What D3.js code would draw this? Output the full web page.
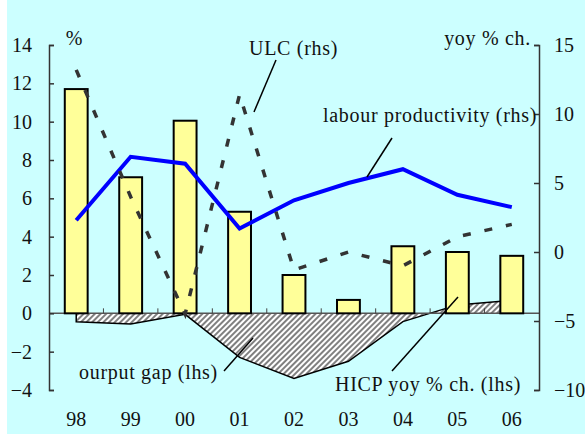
<!DOCTYPE html>
<html>
<head>
<meta charset="utf-8">
<script src="https://cdn.jsdelivr.net/npm/d3@7"></script>
<style>
  html, body { margin: 0; padding: 0; background: #ffffff; }
  svg { display: block; }
  text { font-family: "Liberation Serif", "Times New Roman", serif; fill: #111; }
</style>
</head>
<body>
<svg id="chart" width="585" height="434"></svg>
<script>
// ---- data ----
const years = ["98", "99", "00", "01", "02", "03", "04", "05", "06"];
const hicp = [11.7, 7.1, 10.05, 5.3, 2.0, 0.7, 3.5, 3.2, 3.0];          // bars, lhs
const outputGap = [-0.44, -0.56, -0.05, -2.3, -3.4, -2.5, -0.43, 0.44, 0.68]; // hatched area, lhs
const productivity = [2.3, 6.9, 6.4, 1.7, 3.75, 5.0, 6.0, 4.15, 3.25];   // blue line, rhs
const ulc = [13.2, 4.0, -4.5, 11.4, -1.3, 0.0, -1.0, 1.1, 2.0];          // dashed line, rhs
const leftTicks = [-4, -2, 0, 2, 4, 6, 8, 10, 12, 14];
const rightTicks = [-10, -5, 0, 5, 10, 15];

// ---- layout ----
const svg = d3.select("#chart");
const X0 = 49, X1 = 539, YT = 45, YB = 390;
const fs = 20;

svg.append("rect").attr("x", 7).attr("y", 0).attr("width", 578).attr("height", 434).attr("fill", "#CCFFFF");

const x = d3.scaleBand().domain(years).range([X0, X1]).paddingInner(0).paddingOuter(0);
const cx = d => x(d) + x.bandwidth() / 2;
const yL = d3.scaleLinear().domain([-4, 14]).range([YB, YT]);
const yR = d3.scaleLinear().domain([-10, 15]).range([YB, YT]);

// hatch pattern
const defs = svg.append("defs");
const pat = defs.append("pattern").attr("id", "hatch").attr("patternUnits", "userSpaceOnUse")
  .attr("width", 4).attr("height", 4).attr("patternTransform", "rotate(45)");
pat.append("rect").attr("width", 4).attr("height", 4).attr("fill", "#ffffff");
pat.append("rect").attr("width", 2).attr("height", 4).attr("fill", "#808080");

// output gap area
const gapPts = years.map((d, i) => [cx(d), yL(outputGap[i])]);
const area = d3.area().x(d => d[0]).y0(yL(0)).y1(d => d[1]);
svg.append("path").datum(gapPts).attr("d", area).attr("fill", "url(#hatch)");
const gapOutline = [[cx(years[0]), yL(0)], ...gapPts, [cx(years[years.length - 1]), yL(0)]];
svg.append("path").datum(gapOutline).attr("d", d3.line()).attr("fill", "none")
  .attr("stroke", "#000").attr("stroke-width", 1.5);

// zero line (x axis)
svg.append("line").attr("x1", X0).attr("x2", X1).attr("y1", yL(0)).attr("y2", yL(0))
  .attr("stroke", "#555").attr("stroke-width", 1.5);
// category ticks
const bounds = years.slice(1).map(d => x(d));
svg.selectAll(".ctick").data(bounds).enter().append("line")
  .attr("x1", d => d).attr("x2", d => d).attr("y1", yL(0)).attr("y2", yL(0) - 5)
  .attr("stroke", "#444").attr("stroke-width", 1);

// bars
const bw = x.bandwidth() * 0.42;
svg.selectAll(".bar").data(hicp).enter().append("rect")
  .attr("x", (d, i) => cx(years[i]) - bw / 2)
  .attr("y", d => yL(d))
  .attr("width", bw)
  .attr("height", d => yL(0) - yL(d))
  .attr("fill", "#FFFF99").attr("stroke", "#000").attr("stroke-width", 2);

// productivity line
svg.append("path").datum(productivity)
  .attr("d", d3.line().x((d, i) => cx(years[i])).y(d => yR(d)))
  .attr("fill", "none").attr("stroke", "#0000FF").attr("stroke-width", 4)
  .attr("stroke-linejoin", "miter");

// ULC dashed line
svg.append("path").datum(ulc)
  .attr("d", d3.line().x((d, i) => cx(years[i])).y(d => yR(d)))
  .attr("fill", "none").attr("stroke", "#333").attr("stroke-width", 3.5)
  .attr("stroke-dasharray", "8,14");

// left axis
const gl = svg.append("g").attr("transform", `translate(${X0},0)`)
  .call(d3.axisRight(yL).tickValues(leftTicks).tickSize(5).tickFormat(d3.format("d")));
gl.select(".domain").attr("stroke", "#333").attr("stroke-width", 1.5);
gl.selectAll(".tick line").attr("stroke", "#333").attr("stroke-width", 1.5);
gl.selectAll(".tick text").attr("x", -17).attr("text-anchor", "end")
  .style("font-size", fs + "px").attr("fill", "#111").attr("font-family", "Liberation Serif");

// right axis
const gr = svg.append("g").attr("transform", `translate(${X1},0)`)
  .call(d3.axisLeft(yR).tickValues(rightTicks).tickSize(5).tickFormat(d3.format("d")));
gr.select(".domain").attr("stroke", "#333").attr("stroke-width", 1.5);
gr.selectAll(".tick line").attr("stroke", "#333").attr("stroke-width", 1.5);
gr.selectAll(".tick text").attr("x", 15).attr("text-anchor", "start")
  .style("font-size", fs + "px").attr("fill", "#111").attr("font-family", "Liberation Serif");

// category labels
svg.selectAll(".xl").data(years).enter().append("text")
  .attr("x", d => cx(d)).attr("y", 426).attr("text-anchor", "middle")
  .style("font-size", fs + "px").text(d => d);

// unit labels
svg.append("text").attr("x", 74).attr("y", 45).attr("text-anchor", "middle").style("font-size", fs + "px").text("%");
svg.append("text").attr("x", 531).attr("y", 45).attr("text-anchor", "end").style("font-size", fs + "px")
  .style("letter-spacing", "0.7px").text("yoy % ch.");

// series labels with leaders
const labels = [
  { t: "ULC (rhs)", x: 249, y: 55, l: [276, 60, 254, 112] },
  { t: "labour productivity (rhs)", x: 323, y: 122, l: [392, 138, 367, 177] },
  { t: "ourput gap (lhs)", x: 79, y: 379, l: [224, 371, 253, 338] },
  { t: "HICP yoy % ch. (lhs)", x: 335, y: 391, l: [392, 371, 458, 297] }
];
labels.forEach(o => {
  svg.append("text").attr("x", o.x).attr("y", o.y).style("font-size", fs + "px")
    .style("letter-spacing", "0.7px").text(o.t);
  svg.append("line").attr("x1", o.l[0]).attr("y1", o.l[1]).attr("x2", o.l[2]).attr("y2", o.l[3])
    .attr("stroke", "#000").attr("stroke-width", 1.5);
});
</script>
</body>
</html>
